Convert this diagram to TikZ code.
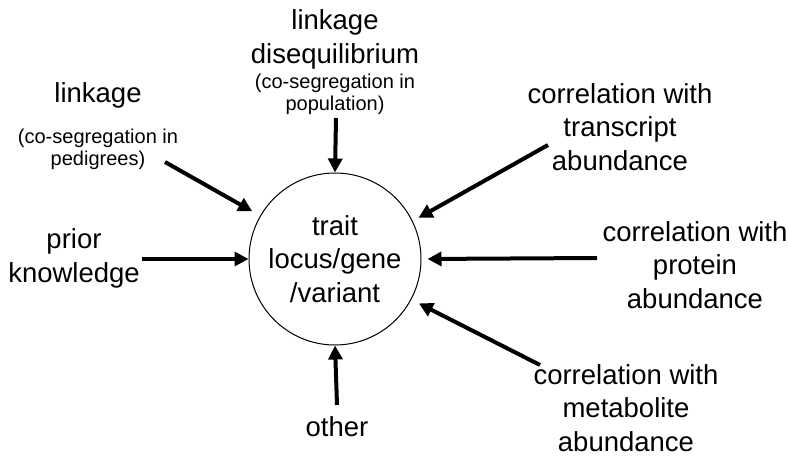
\documentclass[tikz,border=0pt]{standalone}
\usepackage{fontspec}
\setmainfont{Liberation Sans}
\usetikzlibrary{arrows.meta}

\begin{document}
\begin{tikzpicture}[x=0.5pt,y=-0.5pt,
  lbl/.style={inner sep=0pt,align=center,anchor=base,font=\fontsize{13.75}{16.75}\selectfont},
  sublbl/.style={inner sep=0pt,align=center,anchor=base,font=\fontsize{10}{11}\selectfont},
  feed/.style={line width=2pt,-{Triangle[length=7pt,width=7pt]}}]
  \useasboundingbox (0,0) rectangle (788,456);

  % the locus in the middle
  \node[circle,draw,line width=0.5pt,minimum size=86pt,inner sep=0pt,align=center,
        font=\fontsize{13.75}{16.75}\selectfont] (locus) at (335,259) {trait\\locus/gene\\/variant};

  % sources of evidence (placed by the baseline of their last line)
  \node[lbl] (ld) at (335,63) {linkage\\disequilibrium};
  \node[sublbl] (ldsub) at (335,110) {(co-segregation in\\population)};
  \node[lbl] (lnk) at (98,102) {linkage};
  \node[sublbl] (lnksub) at (98,165) {(co-segregation in\\pedigrees)};
  \node[lbl] (prior) at (74,282) {prior\\knowledge};
  \node[lbl] (other) at (337,436) {other};
  \node[lbl] (trans) at (620,170) {correlation with\\transcript\\abundance};
  \node[lbl] (prot) at (695,308) {correlation with\\protein\\abundance};
  \node[lbl] (metab) at (626,451) {correlation with\\metabolite\\abundance};

  \coordinate (ldtail) at (336,118);
  \coordinate (lnktail) at (165,162);
  \coordinate (priortail) at (142,259);
  \coordinate (othertail) at (337,405);
  \coordinate (transtail) at (548,145);
  \coordinate (prottail) at (597,258);
  \coordinate (metabtail) at (540,365);

  \path[feed]
    (ldtail) edge (locus.north)
    (lnktail) edge[shorten >=4.5pt] (locus.150)
    (priortail) edge (locus.west)
    (othertail) edge (locus.south)
    (transtail) edge[shorten >=3.3pt] (locus.26)
    (prottail) edge[shorten >=3pt] (locus.east)
    (metabtail) edge[shorten >=4.2pt] (locus.-28);
\end{tikzpicture}
\end{document}
